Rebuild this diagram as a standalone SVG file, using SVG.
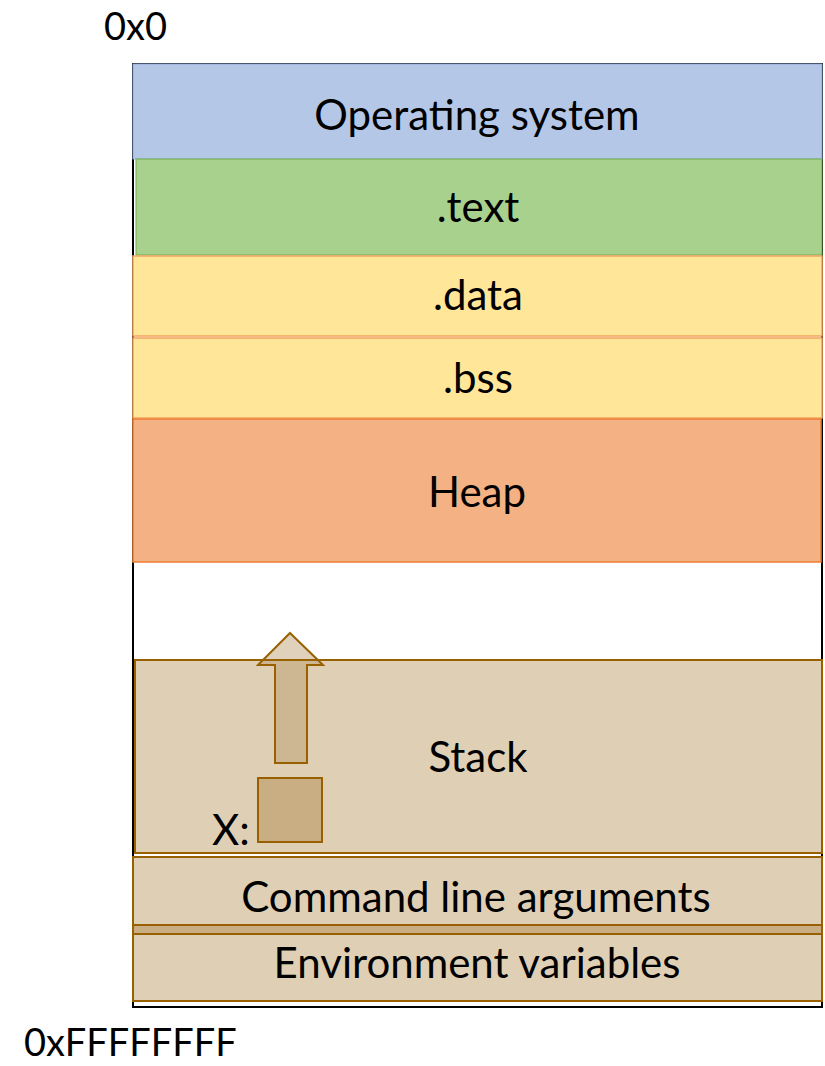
<svg xmlns="http://www.w3.org/2000/svg" width="825" height="1066" viewBox="0 0 825 1066">
  <style>
    text { font-family: Lato, "Open Sans", "Liberation Sans", sans-serif; font-size: 42px; fill: #000; }
    .c { text-anchor: middle; }
    .addr { font-size: 38px; }
    .seg-os { fill: #b4c7e7; stroke: #8faadc; stroke-width: 1; }
    .seg-text { fill: #a9d18e; stroke: #70ad47; stroke-width: 1; }
    .seg-data { fill: #ffe699; stroke: #f4a460; stroke-width: 1.5; }
    .seg-heap { fill: #f4b183; stroke: #ed7d31; stroke-width: 1.5; }
    .seg-stack { fill: #dfcfb5; stroke: #996000; stroke-width: 2; }
    .dark { fill: #c9ae84; stroke: #996000; stroke-width: 2; }
  </style>

  <!-- address space frame -->
  <rect x="133" y="64" width="689" height="943" fill="#fff" stroke="#000" stroke-width="2"/>

  <g id="os">
    <rect class="seg-os" x="133" y="64" width="689" height="95"/>
    <text class="c" x="477" y="130">Operating system</text>
  </g>
  <g id="text-seg">
    <rect class="seg-text" x="136" y="159" width="686" height="96"/>
    <text class="c" x="478" y="222">.text</text>
  </g>
  <g id="data-seg">
    <rect class="seg-data" x="133" y="256" width="689" height="80"/>
    <text class="c" x="478" y="310">.data</text>
  </g>
  <g id="bss-seg">
    <rect class="seg-data" x="133" y="338" width="689" height="80"/>
    <text class="c" x="478" y="393">.bss</text>
  </g>
  <g id="heap">
    <rect class="seg-heap" x="133" y="419" width="688" height="143"/>
    <text class="c" x="477" y="507">Heap</text>
  </g>

  <g id="stack">
    <rect class="seg-stack" x="135" y="660" width="687" height="193"/>
    <text class="c" x="478" y="772">Stack</text>
  </g>

  <!-- growth arrow of the stack -->
  <g id="connectors">
    <path d="M290,633 L323,665 L307,665 L307,763 L275,763 L275,665 L258,665 Z" fill="#b89a68" fill-opacity="0.45" stroke="#996000" stroke-width="2"/>
    <line x1="135" y1="660" x2="822" y2="660" stroke="#996000" stroke-width="2"/>
  </g>

  <g id="var-x">
    <rect class="dark" x="258" y="778" width="64" height="64"/>
    <text x="212" y="845">X:</text>
  </g>

  <g id="args">
    <rect class="seg-stack" x="133" y="857" width="689" height="68"/>
    <text class="c" x="476" y="912">Command line arguments</text>
  </g>
  <rect class="dark" x="133" y="925" width="689" height="9"/>
  <g id="env">
    <rect class="seg-stack" x="133" y="934" width="689" height="67"/>
    <text class="c" x="477" y="978">Environment variables</text>
  </g>

  <g id="labels">
    <text class="addr" x="104" y="40">0x0</text>
    <text class="addr" x="24" y="1056">0xFFFFFFFF</text>
  </g>
</svg>
